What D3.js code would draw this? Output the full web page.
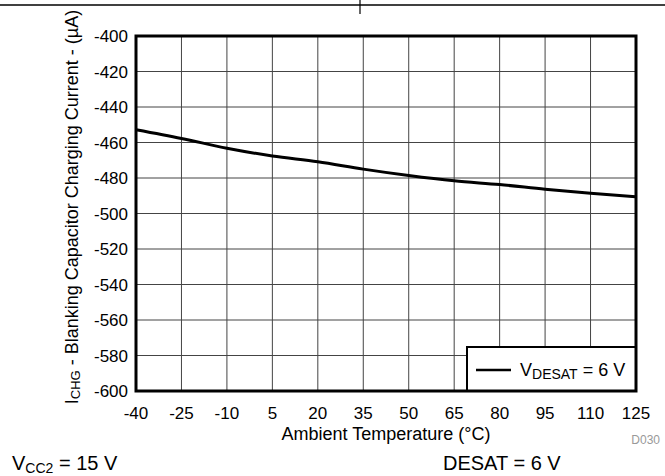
<!DOCTYPE html>
<html>
<head>
<meta charset="utf-8">
<script src="https://cdn.jsdelivr.net/npm/d3@7"></script>
<style>
  body { margin: 0; background: #fff; }
  svg { display: block; font-family: "Liberation Sans", Arial, sans-serif; }
</style>
</head>
<body>
<svg id="chart" width="665" height="476"></svg>
<script>
// temperature points (°C) and measured charging current (µA)
const temps = [-40, -25, -10, 5, 20, 35, 50, 65, 80, 95, 110, 125];
const current = [-452.8, -457.7, -463.2, -467.6, -470.8, -475, -478.6, -481.6, -483.7, -486.3, -488.6, -490.6];
const xTicks = [-40, -25, -10, 5, 20, 35, 50, 65, 80, 95, 110, 125];
const yTicks = [-400, -420, -440, -460, -480, -500, -520, -540, -560, -580, -600];

const plotL = 136, plotR = 636, plotT = 36, plotB = 391;

const svg = d3.select("#chart");

// page frame line at top
svg.append("line").attr("x1", 0).attr("x2", 665).attr("y1", 5).attr("y2", 5)
  .attr("stroke", "#000").attr("stroke-width", 1.5);
svg.append("line").attr("x1", 360).attr("x2", 360).attr("y1", 0).attr("y2", 14)
  .attr("stroke", "#000").attr("stroke-width", 1.2);

const x = d3.scaleLinear().domain([-40, 125]).range([plotL, plotR]);
const y = d3.scaleLinear().domain([-600, -400]).range([plotB, plotT]);

// grid
svg.append("g").selectAll("line").data(xTicks.slice(1, -1)).join("line")
  .attr("x1", d => x(d)).attr("x2", d => x(d))
  .attr("y1", plotT).attr("y2", plotB)
  .attr("stroke", "#444").attr("stroke-width", 1);
svg.append("g").selectAll("line").data(yTicks.slice(1, -1)).join("line")
  .attr("x1", plotL).attr("x2", plotR)
  .attr("y1", d => y(d)).attr("y2", d => y(d))
  .attr("stroke", "#444").attr("stroke-width", 1);

// tick labels
svg.append("g").selectAll("text").data(yTicks).join("text")
  .attr("x", 128).attr("y", d => y(d)).attr("dy", "0.36em")
  .attr("text-anchor", "end").attr("font-size", 17).attr("fill", "#000")
  .text(d => d);
svg.append("g").selectAll("text").data(xTicks).join("text")
  .attr("x", d => x(d)).attr("y", 419)
  .attr("text-anchor", "middle").attr("font-size", 17).attr("fill", "#000")
  .text(d => d);

// data line
const line = d3.line().x((d, i) => x(temps[i])).y(d => y(d)).curve(d3.curveMonotoneX);
svg.append("path").datum(current).attr("d", line)
  .attr("fill", "none").attr("stroke", "#000").attr("stroke-width", 3);

// legend
const lg = svg.append("g");
lg.append("rect").attr("x", 467).attr("y", 347).attr("width", plotR - 467).attr("height", plotB - 347)
  .attr("fill", "#fff").attr("stroke", "#000").attr("stroke-width", 2);
lg.append("line").attr("x1", 476).attr("x2", 511).attr("y1", 370).attr("y2", 370)
  .attr("stroke", "#000").attr("stroke-width", 2.5);
const lt = lg.append("text").attr("x", 520).attr("y", 376).attr("font-size", 18).attr("fill", "#000");
lt.append("tspan").text("V");
lt.append("tspan").attr("font-size", 14).attr("dy", 3).text("DESAT");
lt.append("tspan").attr("dy", -3).text(" = 6 V");

// plot border
svg.append("rect").attr("x", plotL).attr("y", plotT).attr("width", plotR - plotL).attr("height", plotB - plotT)
  .attr("fill", "none").attr("stroke", "#000").attr("stroke-width", 3);

// axis titles
svg.append("text").attr("x", (plotL + plotR) / 2).attr("y", 440)
  .attr("text-anchor", "middle").attr("font-size", 18).attr("fill", "#000")
  .text("Ambient Temperature (°C)");

const yt = svg.append("text")
  .attr("transform", `translate(78,207) rotate(-90)`)
  .attr("text-anchor", "middle").attr("font-size", 18).attr("fill", "#000");
yt.append("tspan").text("I");
yt.append("tspan").attr("font-size", 13).attr("dy", 2).text("CHG");
yt.append("tspan").attr("dy", -2).text(" - Blanking Capacitor Charging Current - (µA)");

svg.append("text").attr("x", 660).attr("y", 444).attr("text-anchor", "end")
  .attr("font-size", 12).attr("fill", "#999").text("D030");

// conditions
const c1 = svg.append("text").attr("x", 12).attr("y", 470).attr("font-size", 20).attr("fill", "#000");
c1.append("tspan").text("V");
c1.append("tspan").attr("font-size", 14).attr("dy", 3).text("CC2");
c1.append("tspan").attr("dy", -3).text(" = 15 V");
svg.append("text").attr("x", 443).attr("y", 470).attr("font-size", 20).attr("fill", "#000")
  .text("DESAT = 6 V");
</script>
</body>
</html>
